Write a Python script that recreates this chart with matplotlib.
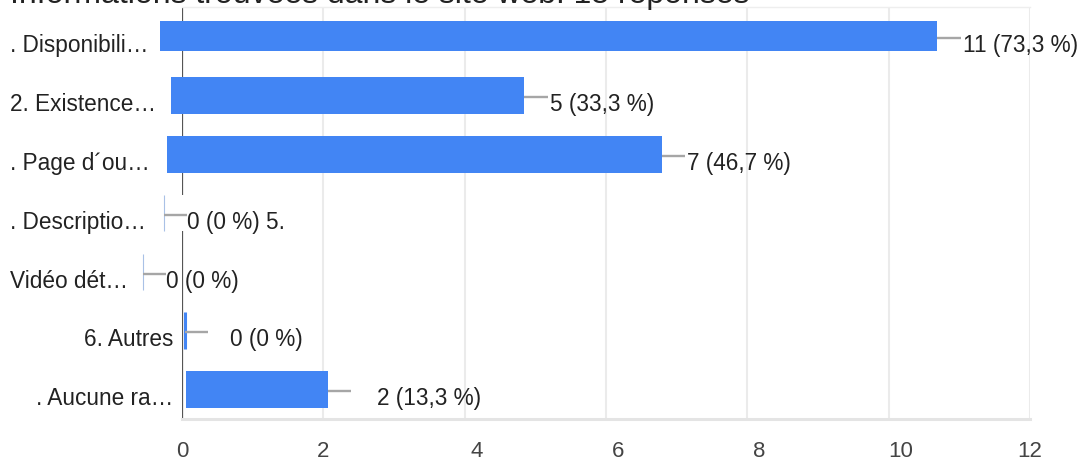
import matplotlib
matplotlib.use("Agg")
import matplotlib.pyplot as plt
import matplotlib.transforms as mtransforms
from matplotlib.patches import Rectangle

plt.rcParams['font.family'] = ['Liberation Sans', 'DejaVu Sans']

# Réponses à la question (15 répondants)
categories = [". Disponibili…", "2. Existence…", ". Page d´ou…", ". Descriptio…",
              "Vidéo dét…", "6. Autres", ". Aucune ra…"]
counts = [11, 5, 7, 0, 0, 0, 2]
n_reponses = 15
label_suffix = ["", "", "", " 5.", "", "", ""]
x_ticks = [0, 2, 4, 6, 8, 10, 12]
title = "Informations trouvées dans le site web. 15 réponses"

# mise en page des barres (décalages du rendu d'origine)
bar_left = [-0.31, -0.156, -0.21, -0.255, -0.55, 0.04, 0.06]
bar_height = [0.51, 0.63, 0.63, 0.62, 0.62, 0.63, 0.63]
label_gap = [0.03, 0.03, 0.03, 0.0, 0.0, 0.31, 0.37]
cat_left = [True, True, True, True, True, False, False]
tick_shift_px = [0, 0, 12, 12, 12, 12, 0]

BLUE = "#4285f4"
TEXT = "#222222"
W, H = 1084, 460
CONNECT = 0.33
DY = 0.14
FS = 16.3


def value_text(c):
    pct = round(c / n_reponses * 100, 1)
    return f"{c} ({pct:g} %)".replace(".", ",")


fig = plt.figure(figsize=(W / 100, H / 100), dpi=100)
ax = fig.add_axes([182 / W, 40 / H, 848 / W, 412 / H])
ax.set_xlim(0, 12)
ax.set_ylim(6.5, -0.5)

ax.set_xticks(x_ticks)
ax.grid(axis='x', color='#ebebeb', lw=1.5, zorder=0)
ax.set_axisbelow(True)
ax.tick_params(axis='x', length=0, pad=15, labelsize=16, labelcolor='#444444')
ax.set_yticks([])
for side in ('left', 'right'):
    ax.spines[side].set_visible(False)
ax.spines['bottom'].set_color('#e4e4e4')
ax.spines['bottom'].set_linewidth(2.2)
ax.spines['top'].set_color('#eeeeee')
ax.spines['top'].set_linewidth(1)

for lbl, dx in zip(ax.get_xticklabels(), tick_shift_px):
    lbl.set_transform(lbl.get_transform() +
                      mtransforms.ScaledTranslation(dx / 100, 0, fig.dpi_scale_trans))

# axe du zéro
ax.axvline(0, color='#555555', lw=1.6, zorder=2)

trans_lbl = mtransforms.blended_transform_factory(fig.transFigure, ax.transData)

for i, (cat, c) in enumerate(zip(categories, counts)):
    left = bar_left[i]
    end = left + c
    if c > 0:
        ax.barh(i, c, left=left, height=bar_height[i], color=BLUE, zorder=3,
                clip_on=False)
    else:
        # fond blanc de l'étiquette, puis trait de la barre nulle
        ax.add_patch(Rectangle((left, i - bar_height[i] / 2), CONNECT,
                               bar_height[i], facecolor='white', edgecolor='none',
                               zorder=2.5, clip_on=False))
        if i == 5:
            ax.barh(i, c, left=left, height=bar_height[i], color=BLUE,
                    edgecolor=BLUE, lw=2.2, zorder=3, clip_on=False)
        else:
            ax.barh(i, c, left=left, height=bar_height[i], color='#a9c1e6',
                    edgecolor='#a9c1e6', lw=0.8, zorder=3, clip_on=False)
    ax.plot([end, end + CONNECT], [i + 0.03, i + 0.03], color='#a6a6a6',
            lw=1.7, zorder=3, clip_on=False, solid_capstyle='butt')
    ax.text(end + CONNECT + label_gap[i], i + DY, value_text(c) + label_suffix[i],
            ha='left', va='center', fontsize=FS, color=TEXT, zorder=4)
    if cat_left[i]:
        ax.text(10 / W, i + DY, cat, transform=trans_lbl, ha='left', va='center',
                fontsize=FS, color=TEXT)
    else:
        ax.text(173 / W, i + DY, cat, transform=trans_lbl, ha='right', va='center',
                fontsize=FS, color=TEXT)

fig.text(10 / W, 1 - 3 / H, title, ha='left', va='baseline', fontsize=23,
         color=TEXT)

fig.savefig("out.png", dpi=100, facecolor='white')
